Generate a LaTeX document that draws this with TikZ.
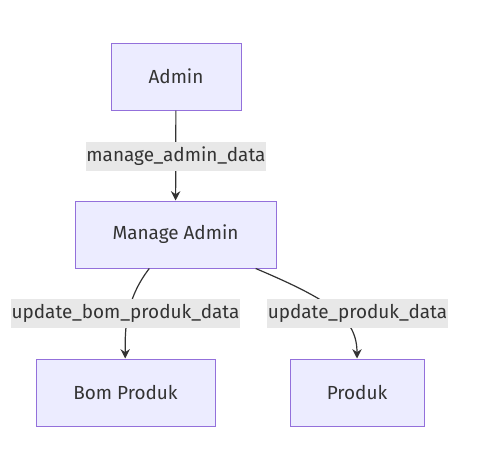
\documentclass[tikz,border=0pt]{standalone}
\usepackage{fontspec}
\setmainfont{Fira Sans}
\usetikzlibrary{arrows.meta}

\definecolor{boxfill}{HTML}{ECECFF}
\definecolor{boxline}{HTML}{9370DB}
\definecolor{edgeline}{HTML}{333333}
\definecolor{labelfill}{HTML}{E8E8E8}

\begin{document}
\begin{tikzpicture}[x=0.75pt,y=-0.75pt,
		entity/.style={draw=boxline,fill=boxfill,line width=0.75pt,minimum height=50.25pt,text=edgeline,font=\fontsize{14.2}{16}\selectfont},
		flow/.style={draw=edgeline,line width=0.9pt,-{Stealth[length=7pt,width=7pt]}},
		flowlabel/.style={fill=labelfill,inner xsep=0.5pt,minimum height=21.75pt,text=edgeline,font=\fontsize{14.2}{16}\selectfont}]
		\useasboundingbox (0,0) rectangle (478,457);
		
		% Draw the boxes
		\node[entity,minimum width=97.5pt] (admin) at (176,76.5){Admin};
		\node[entity,minimum width=150.75pt] (manageadmin) at (175.5,234.5){Manage Admin};
		\node[entity,minimum width=134.25pt] (bomproduk) at (125.5,392.5){Bom Produk};
		\node[entity,minimum width=100.5pt] (produk) at (357,392.5){Produk};
		
		% Draw the flows between them
		\draw[flow] (admin) -- (manageadmin);
		\draw[flow] (manageadmin) .. controls (125,300) and (125,330) .. (bomproduk);
		\draw[flow] (manageadmin) .. controls (330,300) and (357,318) .. (produk);
		
		\node[flowlabel] (l1) at (176,156){manage\_admin\_data};
		\node[flowlabel] (l2) at (125.5,313.5){update\_bom\_produk\_data};
		\node[flowlabel] (l3) at (357.5,313.5){update\_produk\_data};
	\end{tikzpicture}
\end{document}
